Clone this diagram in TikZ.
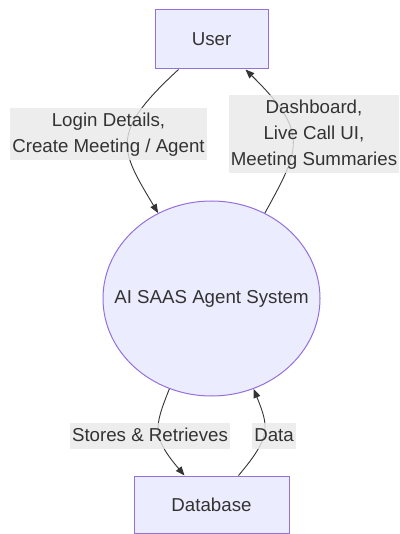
\documentclass[tikz,border=0pt]{standalone}
\usepackage{fontspec}
\setmainfont{Liberation Sans}
\usetikzlibrary{arrows.meta,shapes.geometric}
\definecolor{nodefill}{HTML}{ECECFF}
\definecolor{nodeline}{HTML}{9370DB}
\definecolor{txt}{HTML}{333333}
\definecolor{lblbg}{HTML}{E8E8E8}
\begin{document}
\begin{tikzpicture}[x=1pt,y=-1pt,
  box/.style={draw=nodeline,fill=nodefill,line width=1pt,text=txt,font=\fontsize{18.7}{26}\selectfont,inner sep=0pt},
  flow/.style={draw=txt,line width=0.9pt,-{Triangle[length=9pt,width=7pt]}},
  lbl/.style={fill=lblbg,fill opacity=0.8,text opacity=1,text=txt,font=\fontsize{18.7}{26}\selectfont,inner xsep=2pt,inner ysep=0pt,align=center}]
\useasboundingbox (0,0) rectangle (399,534);
\node[box,minimum width=113pt,minimum height=59pt] (user) at (211.5,39.5) {User};
\node[box,ellipse,minimum width=217pt,minimum height=195pt] (ai) at (211.5,298.5) {\makebox[0pt]{AI SAAS Agent System}};
\node[box,minimum width=155pt,minimum height=57pt] (db) at (211.5,504.5) {Database};
\draw[flow] ([xshift=24pt]user.south west) .. controls (109.5,133) and (119.6,148.9) .. (ai.122);
\draw[flow] (ai.58) .. controls (300,149) and (310,133) .. ([xshift=-23pt]user.south east);
\draw[flow] (ai.-115) .. controls (154,427.4) and (151.7,436.7) .. ([xshift=51pt]db.north west);
\draw[flow] ([xshift=-51pt]db.north east) .. controls (271.3,436.7) and (269,427.4) .. (ai.-65);
\node[lbl] (l1) at (108.5,134.5) {\strut Login Details,\\Create Meeting / Agent\strut};
\node[lbl] (l2) at (314,134) {\strut Dashboard,\\Live Call UI,\\Meeting Summaries\strut};
\node[lbl] (l3) at (150,436) {\strut Stores \& Retrieves};
\node[lbl] (l4) at (274,436) {\strut Data};
\end{tikzpicture}
\end{document}
